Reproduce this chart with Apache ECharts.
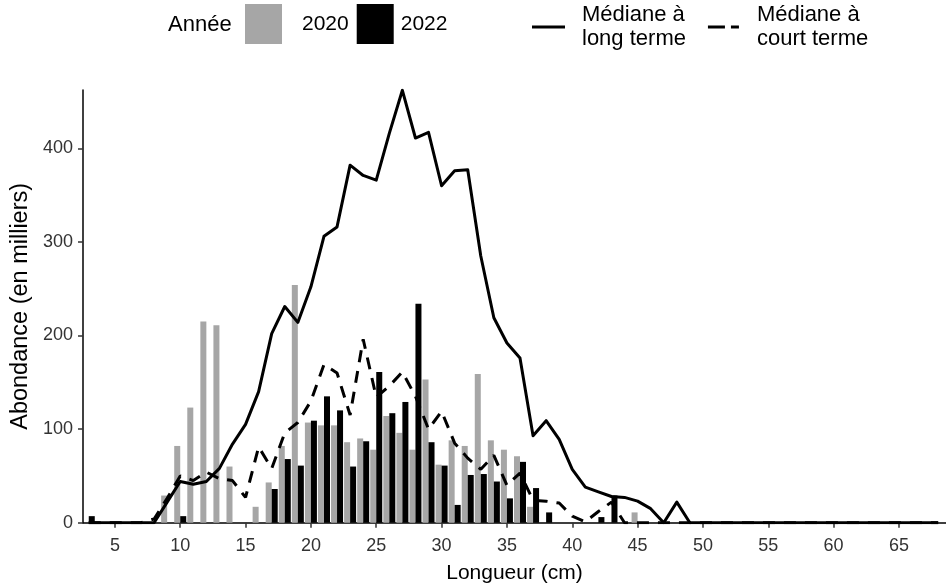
<!DOCTYPE html>
<html><head><meta charset="utf-8">
<script src="https://cdn.jsdelivr.net/npm/echarts@6/dist/echarts.min.js"></script>
<style>html,body{margin:0;padding:0;background:#fff}#c{width:946px;height:586px}</style>
</head><body><div id="c"></div>
<script>
// Longueur (cm)
const lengths = [3,4,5,6,7,8,9,10,11,12,13,14,15,16,17,18,19,20,21,22,23,24,25,26,27,28,29,30,31,32,33,34,35,36,37,38,39,40,41,42,43,44,45,46,47,48,49,50,51,52,53,54,55,56,57,58,59,60,61,62,63,64,65,66,67,68];
// Abondance (en milliers), année 2020
const abund2020 = [0,0,0,0,0,0,29,82,123,215,211,60,0,17,43,82,254,107,104,104,86,90,78,114,96,78,153,62,88,82,159,88,78,71,17,0,0,0,0,0,0,0,11,0,0,0,0,0,0,0,0,0,0,0,0,0,0,0,0,0,0,0,0,0,0,0];
// Abondance (en milliers), année 2022
const abund2022 = [7,0,0,0,0,0,0,7,0,0,0,0,0,0,36,68,61,109,135,120,60,87,161,117,129,234,86,61,19,51,52,44,26,65,37,11,0,0,0,6,29,0,0,0,0,0,0,0,0,0,0,0,0,0,0,0,0,0,0,0,0,0,0,0,0,0];
// Médiane à long terme
const medianLong = [0,0,0,0,0,0,22,44,41,44,58,84,105,140,202,231,214,252,306,316,382,371,366,416,462,411,417,360,376,377,285,219,192,176,93,109,89,57,38,33,28,27,23,15,0,22,0,0,0,0,0,0,0,0,0,0,0,0,0,0,0,0,0,0,0,0];
// Médiane à court terme
const medianShort = [0,0,0,0,0,4,26,50,45,54,47,45,27,81,58,96,107,130,169,160,115,196,134,146,161,135,100,119,85,69,57,72,40,53,24,23,21,7,1,12,22,0,0,0,0,0,0,0,0,0,0,0,0,0,0,0,0,0,0,0,0,0,0,0,0,0];
const xTicks = [5,10,15,20,25,30,35,40,45,50,55,60,65];
const yTicks = [0,100,200,300,400];
const yearNames = ['2020','2022'];
const lineNames = ['Médiane à\nlong terme','Médiane à\ncourt terme'];
const legendTitle = 'Année';
const xTitle = 'Longueur (cm)';
const yTitle = 'Abondance (en milliers)';

const FONT = '"Liberation Sans", Arial, sans-serif';
const pairs = arr => lengths.map((l, i) => [l, arr[i]]);
const chart = echarts.init(document.getElementById('c'), null, {renderer: 'canvas'});
const option = {
  animation: false,
  backgroundColor: '#fff',
  textStyle: {fontFamily: FONT},
  title: {text: legendTitle, left: 168, top: 14, padding: 0,
    textStyle: {fontSize: 22, fontWeight: 'normal', color: '#000', fontFamily: FONT}},
  legend: [
    {data: yearNames, left: 245, top: 4, padding: 0, icon: 'rect', itemWidth: 37, itemHeight: 40, itemGap: 8,
      selectedMode: false,
      formatter: name => name === yearNames[0] ? '{a|' + name + '}' : '{b|' + name + '}',
      textStyle: {fontSize: 21, color: '#000', fontFamily: FONT, padding: [0, 0, 0, 2],
        rich: {a: {fontSize: 21, color: '#000', fontFamily: FONT, padding: [0, 0, 0, 13]},
               b: {fontSize: 21, color: '#000', fontFamily: FONT}}}},
    {data: [{name: lineNames[0], icon: 'rect'}, {name: lineNames[1], icon: 'path://M0,0H17V3H0Z M23,0H31V3H23Z'}],
      left: 532, top: 3, padding: 0, itemWidth: 33, itemHeight: 3, itemGap: 22, selectedMode: false,
      itemStyle: {color: '#000', borderWidth: 0},
      textStyle: {fontSize: 22, lineHeight: 24, color: '#000', fontFamily: FONT, padding: [0, 0, 0, 12]}}
  ],
  grid: {left: 83, right: 0, top: 90, bottom: 63.3, outerBoundsMode: 'none', containLabel: false},
  xAxis: {
    type: 'value', min: 2.56, max: 68.6,
    name: xTitle, nameLocation: 'middle', nameGap: 40,
    nameTextStyle: {fontSize: 21, color: '#000', fontFamily: FONT},
    axisLine: {show: true, lineStyle: {color: '#000', width: 1.5}},
    axisTick: {show: true, customValues: xTicks, length: 5, lineStyle: {color: '#333', width: 1.5}},
    axisLabel: {customValues: xTicks, fontSize: 18, color: '#333', margin: 14, fontFamily: FONT},
    splitLine: {show: false}
  },
  yAxis: {
    type: 'value', min: 0, max: 462.3,
    name: yTitle, nameLocation: 'middle', nameGap: 48, nameRotate: 90,
    nameTextStyle: {fontSize: 23.5, color: '#000', fontFamily: FONT},
    axisLine: {show: true, lineStyle: {color: '#000', width: 1.5}},
    axisTick: {show: true, customValues: yTicks, length: 5, lineStyle: {color: '#333', width: 1.5}},
    axisLabel: {customValues: yTicks, fontSize: 18, color: '#333', margin: 10, fontFamily: FONT},
    splitLine: {show: false}
  },
  series: [
    {name: yearNames[0], type: 'bar', data: pairs(abund2020), barWidth: '46%', barGap: '0%',
      itemStyle: {color: '#a6a6a6'}, silent: true},
    {name: yearNames[1], type: 'bar', data: pairs(abund2022), barWidth: '46%', barGap: '0%',
      itemStyle: {color: '#000000'}, silent: true},
    {name: lineNames[0], type: 'line', data: pairs(medianLong), symbol: 'none', silent: true,
      itemStyle: {color: '#000'}, lineStyle: {color: '#000', width: 3, type: 'solid', join: 'round'}},
    {name: lineNames[1], type: 'line', data: pairs(medianShort), symbol: 'none', silent: true,
      itemStyle: {color: '#000'}, lineStyle: {color: '#000', width: 3, type: [12, 9], cap: 'butt'}}
  ]
};
chart.setOption(option);
</script>
</body></html>
